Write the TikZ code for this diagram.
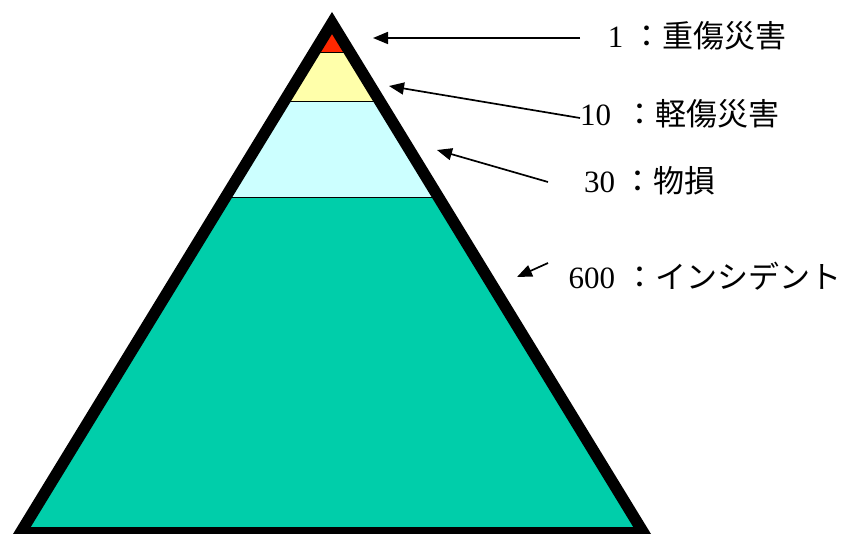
\documentclass[tikz,border=0pt]{standalone}
\usepackage{fontspec}
\newfontfamily\jp{Noto Sans CJK JP}
\newfontfamily\dg{Liberation Serif}
\usetikzlibrary{arrows.meta}
\definecolor{topred}{RGB}{255,40,0}
\definecolor{pyellow}{RGB}{255,255,170}
\definecolor{pcyan}{RGB}{204,255,255}
\definecolor{pteal}{RGB}{0,206,170}
\begin{document}
\begin{tikzpicture}[x=1pt,y=-1pt,
  lbl/.style={anchor=base west, inner sep=0pt, font=\fontsize{31}{36}\selectfont},
  ptr/.style={line width=1.7pt, -{Triangle[length=15pt,width=12pt]}},
  bandline/.style={draw=black, line width=1pt},
  outline/.style={draw=black, line width=11.5pt, line join=miter}]
\useasboundingbox (0,0) rectangle (845,534);
\coordinate (A) at (332,23);
\coordinate (L) at (20.5,532.75);
\coordinate (R) at (643.5,532.75);
\begin{scope}
  \clip (A) -- (L) -- (R) -- cycle;
  \fill[pteal] (0,198) rectangle (845,540);
  \fill[pcyan] (0,102) rectangle (845,198);
  \fill[pyellow] (0,53) rectangle (845,102);
  \fill[topred] (0,0) rectangle (845,53);
  \draw[bandline] (0,53) -- (845,53);
  \draw[bandline] (0,102) -- (845,102);
  \draw[bandline] (0,198) -- (845,198);
\end{scope}
\draw[outline] (A) -- (L) -- (R) -- cycle;
\node[lbl] (t1) at (600,48) {\makebox[31pt]{\dg\fontsize{31}{36}\selectfont 1}{\jp\fontsize{31}{36}\selectfont ：重傷災害}};
\node[lbl] (t2) at (580,126) {\makebox[44pt][l]{\dg\fontsize{31}{36}\selectfont 10}{\jp\fontsize{31}{36}\selectfont ：軽傷災害}};
\node[lbl] (t3) at (584,193) {\makebox[38pt][l]{\dg\fontsize{31}{36}\selectfont 30}{\jp\fontsize{31}{36}\selectfont ：物損}};
\node[lbl] (t4) at (568.5,288) {\makebox[55.5pt][l]{\dg\fontsize{31}{36}\selectfont 600}{\jp\fontsize{31}{36}\selectfont ：インシデント}};
\coordinate (s1) at (580,38);  \coordinate (e1) at (373,38);
\coordinate (s2) at (580,118); \coordinate (e2) at (389,86);
\coordinate (s3) at (548,182); \coordinate (e3) at (437,150);
\coordinate (s4) at (548,263); \coordinate (e4) at (517,277);
\draw[ptr] (s1) -- (e1);
\draw[ptr] (s2) -- (e2);
\draw[ptr] (s3) -- (e3);
\draw[ptr] (s4) -- (e4);
\end{tikzpicture}
\end{document}
